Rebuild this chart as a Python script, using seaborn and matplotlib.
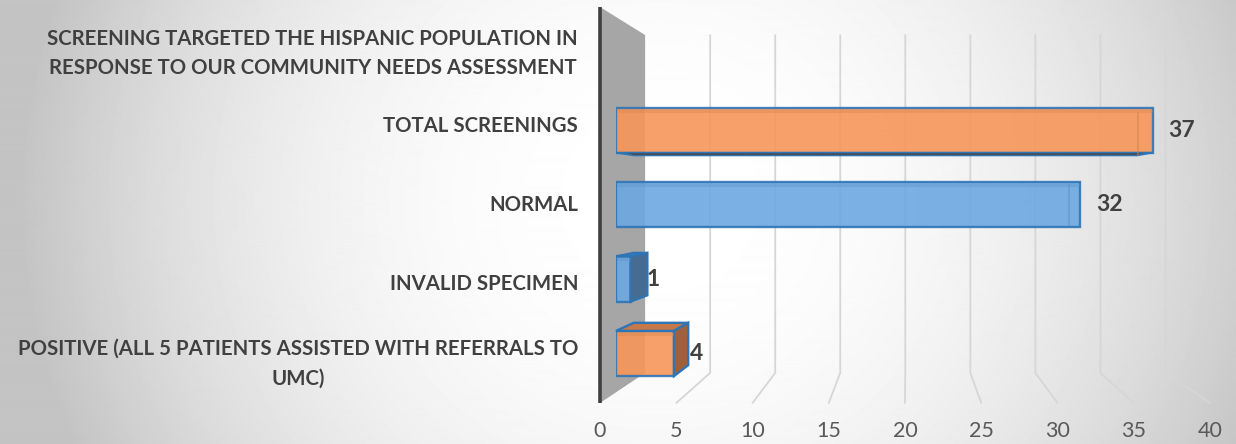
import numpy as np
import pandas as pd
import matplotlib
matplotlib.use("Agg")
import matplotlib.pyplot as plt
import matplotlib.colors as mcolors
from matplotlib.patches import Polygon
import seaborn as sns

# ---------------- data ----------------
categories = [
    "SCREENING TARGETED THE HISPANIC POPULATION IN\nRESPONSE TO OUR COMMUNITY NEEDS ASSESSMENT",
    "TOTAL SCREENINGS",
    "NORMAL",
    "INVALID SPECIMEN",
    "POSITIVE (ALL 5 PATIENTS ASSISTED WITH REFERRALS TO\nUMC)",
]
values = [np.nan, 37, 32, 1, 4]
x_ticks = [0, 5, 10, 15, 20, 25, 30, 35, 40]

# ---------------- style ----------------
ORANGE = "#F8965A"
BLUE = "#6DA8E2"
palette = {categories[1]: ORANGE, categories[2]: BLUE,
           categories[3]: BLUE, categories[4]: ORANGE}
EDGE = "#2E75B6"

W, H = 1236, 444
sns.set_style("white")
plt.rcParams["font.family"] = ["Lato", "DejaVu Sans"]

fig = plt.figure(figsize=(W / 100, H / 100), dpi=100)

# perspective geometry (pixel space, y downwards)
VX, VY = 907, 198
FLOOR_X0, FLOOR_SCALE, FLOOR_Y = 600, 15.25, 403
WALL_TOP = 7
K_BACK = 0.853
S_BAR = 0.94
BAR_RATIO = 0.939
BAR_X0, BAR_SCALE = 616, 14.5


def persp(x, y, s):
    return VX + (x - VX) * s, VY + (y - VY) * s


# ---------------- background ----------------
bg = fig.add_axes([0, 0, 1, 1], zorder=0)
yy, xx = np.mgrid[0:H, 0:W]
r = np.hypot(xx - 660, (yy - 200) * 1.05)
shade = 1 - 0.21 * np.clip(r / 610, 0, 1.05) ** 2.2
bg.imshow(shade, cmap="gray", vmin=0, vmax=1, extent=(0, W, H, 0),
          aspect="auto", interpolation="bilinear")
bg.set_xlim(0, W)
bg.set_ylim(H, 0)
bg.axis("off")

# side wall
bx0, by_top = persp(FLOOR_X0, WALL_TOP, K_BACK)
_, by_bot = persp(FLOOR_X0, FLOOR_Y, K_BACK)
bg.add_patch(Polygon([(FLOOR_X0, WALL_TOP), (bx0, by_top), (bx0, by_bot),
                      (FLOOR_X0, FLOOR_Y)], closed=True, fc="#a6a6a6", ec="none"))

# gridlines (back wall + floor)
for t in x_ticks[1:]:
    fx = FLOOR_X0 + FLOOR_SCALE * t
    gx, gy = persp(fx, FLOOR_Y, K_BACK)
    bg.plot([gx, gx, fx], [by_top, gy, FLOOR_Y], color="#d6d6d6", lw=1.3,
            solid_joinstyle="miter")

bg.plot([FLOOR_X0, FLOOR_X0], [WALL_TOP, FLOOR_Y], color="#3f3f3f", lw=2.6,
        solid_capstyle="butt")

# ---------------- frame axes: tick labels ----------------
frame = fig.add_axes([FLOOR_X0 / W, (H - FLOOR_Y) / H,
                      FLOOR_SCALE * 40 / W, (FLOOR_Y - WALL_TOP) / H], zorder=1)
frame.patch.set_alpha(0)
frame.set_xlim(0, 40)
frame.set_ylim(len(categories) - 0.5, -0.5)
frame.set_xticks(x_ticks)
frame.set_xticklabels([str(t) for t in x_ticks])
frame.set_yticks(range(len(categories)))
frame.set_yticklabels(categories, fontweight="bold", multialignment="center",
                      linespacing=1.6, va="center")
frame.tick_params(axis="x", length=0, pad=13, labelsize=15.5, labelcolor="#595959")
frame.tick_params(axis="y", length=0, pad=15.8, labelsize=14.7, labelcolor="#404040")
frame.get_yticklabels()[0].set_va("center_baseline")
for sp in frame.spines.values():
    sp.set_visible(False)
frame.grid(False)

# ---------------- bar axes ----------------
_, ytop = persp(0, WALL_TOP, S_BAR)
_, ybot = persp(0, FLOOR_Y, S_BAR)
bax = fig.add_axes([BAR_X0 / W, (H - ybot) / H, BAR_SCALE * 40 / W, (ybot - ytop) / H],
                   zorder=2)
df = pd.DataFrame({"category": categories, "value": values}).dropna()
BAR_W = 0.606
sns.barplot(data=df, x="value", y="category", hue="category", order=categories,
            palette=palette, saturation=1, orient="h", width=BAR_W, edgecolor=EDGE,
            linewidth=1.7, alpha=0.9, legend=False, ax=bax)
bax.set_xlim(0, 40)
bax.set_ylim(len(categories) - 0.5, -0.5)
bax.axis("off")
for c in bax.containers:
    texts = bax.bar_label(c, fmt="%g", padding=11.5, fontsize=16.5, color="#404040")
    for t in texts:
        t.set_fontweight("bold")

# ---------------- 3-D faces of bars ----------------
ov = fig.add_axes([0, 0, 1, 1], zorder=3)
ov.set_xlim(0, W)
ov.set_ylim(H, 0)
ov.axis("off")
ov.patch.set_alpha(0)


def dark(col, f):
    rgb = np.array(mcolors.to_rgb(col))
    return tuple(rgb * f)


def back(p):
    return persp(p[0], p[1], BAR_RATIO)


for i, (cat, v) in enumerate(zip(categories, values)):
    if np.isnan(v):
        continue
    (xl, yt), (xr, yb) = bax.transData.transform([(0, i - BAR_W / 2), (v, i + BAR_W / 2)])
    yt, yb = H - yt, H - yb
    col = palette[cat]
    # subtle bevel strip along the top of the front face
    ov.plot([xl + 2, xr - 2], [yt + 3, yt + 3], color=dark(col, 0.9), lw=2.2, alpha=0.45)
    if yt > VY:
        ov.add_patch(Polygon([(xl, yt), (xr, yt), back((xr, yt)), back((xl, yt))],
                             fc=dark(col, 0.8), ec=EDGE, lw=1.7))
    if yb < VY:
        ov.add_patch(Polygon([(xl, yb), (xr, yb), back((xr, yb)), back((xl, yb))],
                             fc=dark(col, 0.36), ec=EDGE, lw=1.2))
    if xr < VX:
        ov.add_patch(Polygon([(xr, yt), (xr, yb), back((xr, yb)), back((xr, yt))],
                             fc=dark(col, 0.64), ec=EDGE, lw=1.7))
    else:
        p1, p2 = back((xr, yt)), back((xr, yb))
        ov.plot([p1[0], p2[0]], [p1[1], p2[1]], color=dark(col, 0.85), lw=1.4, alpha=0.5)

fig.savefig("out.png", dpi=100)
